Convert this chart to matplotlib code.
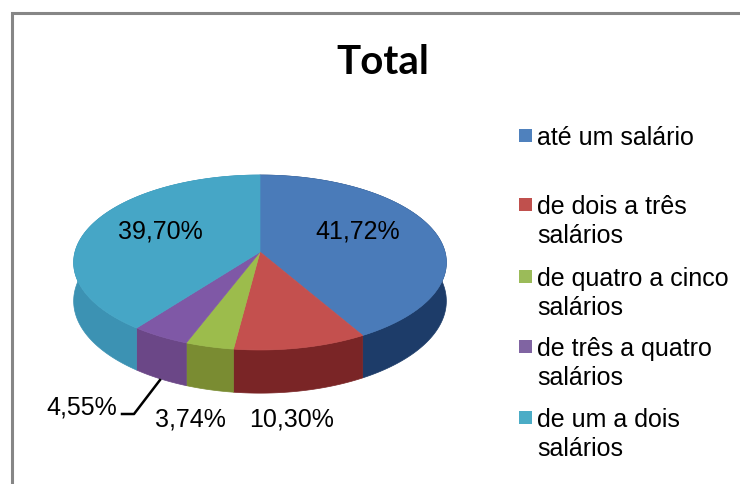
import numpy as np
import matplotlib
matplotlib.use('Agg')
import matplotlib.pyplot as plt
from matplotlib.patches import Rectangle

# Data
categorias = ['até um salário', 'de dois a três\nsalários', 'de quatro a cinco\nsalários',
              'de três a quatro\nsalários', 'de um a dois\nsalários']
valores = [41.72, 10.30, 3.74, 4.55, 39.70]

cores_topo = ['#4a7bb9', '#c4504e', '#9cbc4c', '#7f58a6', '#46a6c6']
cores_lado = ['#1d3c69', '#7a2526', '#7a8c32', '#6b4787', '#3c92b3']
cores_legenda = ['#4f81bd', '#c0504d', '#9bbb59', '#8064a2', '#4bacc6']

# Pie geometry in image pixels, the axes run 1:1 with the figure
CX, CY = 260, 252
RX, RY = 185, 86.2
PERSP = 0.12
ALTURA = 38


def projeta(t, prof=0.0):
    # t is clockwise from the top, in radians
    u, v = np.sin(t), -np.cos(t)
    s = 1 / (1 - PERSP * v)
    return CX + RX * u * s, CY + RY * v * s + prof * s


fig = plt.figure(figsize=(7.4, 4.84), dpi=100)
ax = fig.add_axes([0, 0, 1, 1])
ax.set_xlim(0, 740)
ax.set_ylim(484, 0)
ax.axis('off')

# Grey frame, only the left and top edges are inside the crop
ax.plot([11.5, 11.5, 740], [484, 12.5, 12.5], color='#868686', lw=2.2, solid_joinstyle='miter')

limites = np.cumsum([0] + valores) / sum(valores) * 2 * np.pi

# Side wall first, the top disc covers whatever is behind it
for i in range(len(valores)):
    t = np.linspace(limites[i], limites[i + 1], 120)
    x1, y1 = projeta(t)
    x2, y2 = projeta(t, ALTURA)
    ax.fill(np.r_[x1, x2[::-1]], np.r_[y1, y2[::-1]], color=cores_lado[i], lw=0.5, zorder=2)

for i in range(len(valores)):
    t = np.linspace(limites[i], limites[i + 1], 120)
    x, y = projeta(t)
    ax.fill(np.r_[CX, x], np.r_[CY, y], color=cores_topo[i], lw=0.5, zorder=3)

ax.text(383, 62, 'Total', fontsize=29, fontweight='bold', family='Lato',
        ha='center', va='center', color='black')

# Value labels
rotulos = [f'{v:.2f}%'.replace('.', ',') for v in valores]
pos_rotulos = [(358, 232), (292, 420), (190, 419), (82, 407), (160, 232)]
for r, (px, py) in zip(rotulos, pos_rotulos):
    ax.text(px, py, r, fontsize=18, family='Liberation Sans', ha='center', va='center',
            color='black', zorder=5)

# Leader line of the 4,55% label
ax.plot([122, 134, 160], [414, 414, 380], color='black', lw=1.8, zorder=5)

# Legend drawn by hand to keep its uneven spacing
legenda_y = [136, 205, 277, 347, 418]
for cat, cor, ly in zip(categorias, cores_legenda, legenda_y):
    ax.add_patch(Rectangle((519, ly - 7), 13, 13, facecolor=cor, edgecolor='none'))
    ax.text(537, ly - 10, cat, fontsize=18, family='Liberation Sans', ha='left', va='top',
            linespacing=1.27, color='black')

fig.savefig('out.png', dpi=100)
